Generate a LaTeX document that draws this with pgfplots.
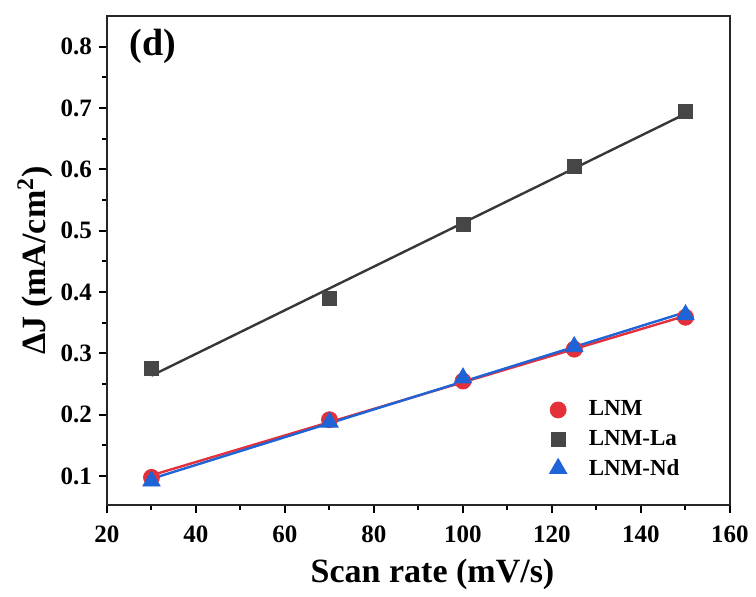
\documentclass[border=0pt]{standalone}
\usepackage{fontspec}
\setmainfont{Liberation Serif}
\usepackage{pgfplots}
\usepackage{pgfplotstable}
\pgfplotsset{compat=1.18}
\definecolor{cred}{RGB}{228,48,58}
\definecolor{cgray}{RGB}{70,70,70}
\definecolor{cblue}{RGB}{30,100,215}
\definecolor{lgray}{RGB}{55,55,55}
\pgfplotstableread{
x   LNM    La     Nd
30  0.098  0.275  0.092
70  0.192  0.390  0.188
100 0.255  0.510  0.260
125 0.307  0.605  0.311
150 0.359  0.695  0.363
}\data
\begin{document}
\begin{tikzpicture}
\begin{axis}[
  scale only axis, width=311.5pt, height=244.5pt,
  xmin=20, xmax=160, ymin=0.053, ymax=0.85,
  xtick={20,40,...,160}, ytick={0.1,0.2,...,0.8},
  minor x tick num=1, minor y tick num=1,
  xtick pos=bottom, ytick pos=left, tick align=outside,
  major tick length=4pt, minor tick length=2.5pt,
  every tick/.style={line width=1pt, black},
  axis line style={line width=1.3pt, black!85},
  /pgf/number format/assume math mode=true,
  /pgf/number format/.cd, fixed, precision=1, fixed zerofill, /pgfplots/.cd,
  xticklabel style={/pgf/number format/precision=0, /pgf/number format/fixed zerofill=false, yshift=-3pt},
  tick label style={font=\fontsize{12.5}{14}\selectfont\bfseries},
  xlabel={\textbf{Scan rate (mV/s)}},
  ylabel={\textbf{ΔJ (mA/cm\textsuperscript{2})}},
  label style={font=\fontsize{17}{19}\selectfont},
  xlabel style={yshift=-1pt, xshift=7pt},
  ylabel style={yshift=-3pt},
  legend style={draw=none, fill=none, at={(0.70,0.23)}, anchor=north west,
    font=\fontsize{11.5}{13}\selectfont\bfseries, row sep=1.5pt,
    /tikz/every odd column/.append style={column sep=9pt}},
  legend cell align=left,
]
\addplot[lgray, line width=1.2pt, no marks, forget plot] table[x=x, y={create col/linear regression={y=La}}] {\data};
\addplot[cred, line width=1.2pt, no marks, forget plot] table[x=x, y={create col/linear regression={y=LNM}}] {\data};
\addplot[cblue, line width=1.2pt, no marks, forget plot] table[x=x, y={create col/linear regression={y=Nd}}] {\data};
\addplot[only marks, mark=*, mark size=4pt, cred, mark options={draw=cred, fill=cred}] table[x=x, y=LNM] {\data};
\addplot[only marks, mark=square*, mark size=3.5pt, cgray, mark options={draw=cgray, fill=cgray}] table[x=x, y=La] {\data};
\addplot[only marks, mark=triangle*, mark size=5pt, cblue, mark options={draw=cblue, fill=cblue}] table[x=x, y=Nd] {\data};
\legend{LNM, LNM-La, LNM-Nd}
\node[anchor=west, font=\fontsize{19}{21}\selectfont\bfseries] at (rel axis cs:0.025,0.937) {(d)};
\end{axis}
\path ([shift={(-53.5pt,-43pt)}]current axis.south west) rectangle ([shift={(324.5pt,252.5pt)}]current axis.south west);
\end{tikzpicture}
\end{document}
